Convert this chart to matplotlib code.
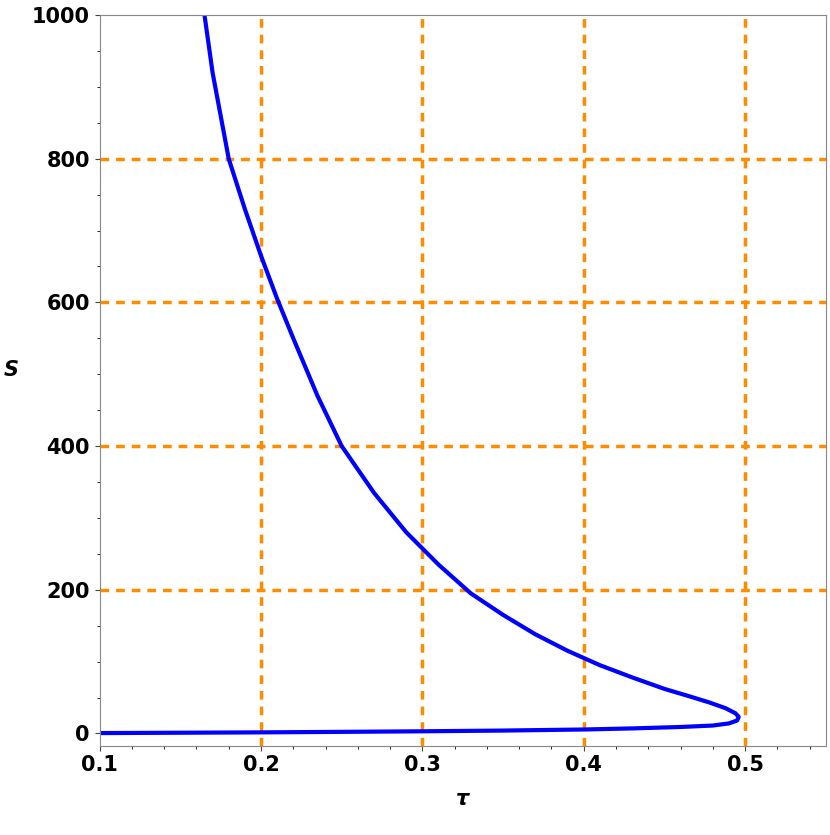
import matplotlib
matplotlib.use("Agg")
import matplotlib.pyplot as plt
from matplotlib.ticker import MultipleLocator

# curve: upper branch, turning point, lower branch
tau = [0.165, 0.170, 0.175, 0.180, 0.190, 0.200, 0.210, 0.220, 0.235, 0.250,
       0.270, 0.290, 0.310, 0.330, 0.350, 0.370, 0.390, 0.410, 0.430, 0.450,
       0.465, 0.478, 0.488, 0.494, 0.496, 0.495, 0.490, 0.480, 0.460, 0.430,
       0.400, 0.350, 0.300, 0.250, 0.200, 0.150, 0.100]
s_vals = [1000, 920, 860, 800, 730, 665, 605, 550, 470, 400,
          335, 280, 235, 195, 165, 138, 115, 95, 78, 62,
          52, 43, 35, 28, 23, 18, 14, 11, 9, 7,
          5.5, 4, 3, 2.2, 1.5, 1, 0.5]

grid_x = [0.2, 0.3, 0.4, 0.5]
grid_y = [200, 400, 600, 800]

fig, ax = plt.subplots(figsize=(8.3, 8.35), dpi=100)
fig.subplots_adjust(left=0.12, right=0.995, bottom=0.107, top=0.982)

for gx in grid_x:
    ax.axvline(gx, color="#ff8c00", ls=(0, (2.5, 2)), lw=2.5, zorder=1)
for gy in grid_y:
    ax.axhline(gy, color="#ff8c00", ls=(0, (2.5, 2)), lw=2.5, zorder=1)

ax.plot(tau, s_vals, color="#0000ff", lw=3, zorder=2)

ax.set_xlim(0.1, 0.55)
ax.set_ylim(-17, 1000)
ax.xaxis.set_major_locator(MultipleLocator(0.1))
ax.xaxis.set_minor_locator(MultipleLocator(0.02))
ax.yaxis.set_major_locator(MultipleLocator(200))
ax.yaxis.set_minor_locator(MultipleLocator(50))
ax.tick_params(labelsize=15, colors="#444444", labelcolor="black")
for lab in ax.get_xticklabels() + ax.get_yticklabels():
    lab.set_fontweight("bold")
for sp in ax.spines.values():
    sp.set_color("#888888")

ax.set_xlabel("τ", fontsize=15, fontweight="bold", style="italic", labelpad=10)
ax.set_ylabel("S", fontsize=15, fontweight="bold", style="italic",
              rotation=0, labelpad=15)

fig.savefig("out.png")
